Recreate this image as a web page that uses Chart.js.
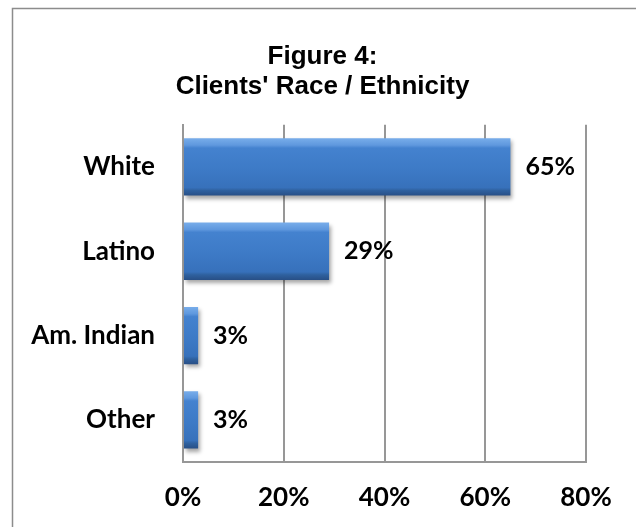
<!DOCTYPE html>
<html>
<head>
<meta charset="utf-8">
<script src="https://cdn.jsdelivr.net/npm/chart.js@4"></script>
<style>
  html, body { margin: 0; padding: 0; background: #ffffff; }
  #wrap { width: 636px; height: 527px; position: relative; }
</style>
</head>
<body>
<div id="wrap"><canvas id="c" width="636" height="527"></canvas></div>
<script>
// ---- data ----
const categories = ['White', 'Latino', 'Am. Indian', 'Other'];
const values = [65, 29, 3, 3];
const xTicks = [0, 20, 40, 60, 80];
const titleLines = ['Figure 4:', "Clients' Race / Ethnicity"];

const TICK_FONT = { family: 'Lato', size: 26, weight: 'bold' };
const GRID = '#979797';

function barGradient(ctx) {
  const chart = ctx.chart;
  const ys = chart.scales && chart.scales.y;
  const area = chart.chartArea;
  if (!ys || !area || ctx.dataIndex === undefined) return '#3f7cc8';
  const cy = ys.getPixelForValue(ctx.dataIndex);
  const h = (area.bottom - area.top) / categories.length * 0.68;
  const g = chart.ctx.createLinearGradient(0, cy - h / 2, 0, cy + h / 2);
  g.addColorStop(0, '#78adea');
  g.addColorStop(0.12, '#5f98de');
  g.addColorStop(0.17, '#4482cf');
  g.addColorStop(0.55, '#3d7ac6');
  g.addColorStop(0.86, '#3771bb');
  g.addColorStop(0.91, '#2f619f');
  g.addColorStop(1, '#284f86');
  return g;
}

const frame = {
  id: 'frame',
  beforeDraw(chart) {
    const c = chart.ctx;
    c.save();
    c.strokeStyle = '#8c8c8c';
    c.lineWidth = 1.5;
    c.strokeRect(12.5, 8.5, 800, 800);
    c.restore();
  }
};

const barFx = {
  id: 'barFx',
  beforeDatasetsDraw(chart) {
    const c = chart.ctx;
    c.save();
    c.shadowColor = 'rgba(0,0,0,0.35)';
    c.shadowBlur = 4;
    c.shadowOffsetX = 2;
    c.shadowOffsetY = 3;
  },
  afterDatasetsDraw(chart) {
    const c = chart.ctx;
    c.restore();
    const meta = chart.getDatasetMeta(0);
    c.save();
    c.fillStyle = '#000';
    c.font = 'bold 25px Lato';
    c.textBaseline = 'middle';
    c.textAlign = 'left';
    meta.data.forEach((el, i) => {
      c.fillText(values[i] + '%', el.x + 15, el.y);
    });
    c.restore();
  }
};

new Chart(document.getElementById('c'), {
  type: 'bar',
  data: {
    labels: categories,
    datasets: [{
      data: values,
      backgroundColor: barGradient,
      borderWidth: 0,
      categoryPercentage: 0.68,
      barPercentage: 1
    }]
  },
  options: {
    indexAxis: 'y',
    responsive: false,
    animation: false,
    devicePixelRatio: 1,
    layout: { padding: { left: 9, right: 0, top: 0, bottom: 0 } },
    plugins: {
      legend: { display: false },
      tooltip: { enabled: false },
      title: {
        display: true,
        text: titleLines,
        color: '#000',
        font: { family: 'Liberation Sans', size: 26, weight: 'bold', lineHeight: 1.15 },
        padding: { top: 42, bottom: 23 }
      }
    },
    scales: {
      x: {
        type: 'linear',
        min: xTicks[0],
        max: xTicks[xTicks.length - 1],
        afterBuildTicks(s) { s.ticks = xTicks.map(v => ({ value: v })); },
        ticks: {
          color: '#000',
          font: TICK_FONT,
          padding: 20,
          callback: v => v + '%'
        },
        grid: { color: GRID, lineWidth: 2, drawTicks: false },
        border: { display: true, color: GRID, width: 2 },
        afterFit(s) { s.height = 65; }
      },
      y: {
        type: 'category',
        ticks: { color: '#000', font: TICK_FONT, padding: 28 },
        grid: { display: false, drawTicks: false },
        border: { display: true, color: GRID, width: 2 },
        afterFit(s) { s.width = 174; }
      },
      yr: {
        type: 'category',
        position: 'right',
        display: true,
        ticks: { display: false },
        grid: { display: false, drawTicks: false },
        border: { display: false },
        afterFit(s) { s.width = 50; }
      }
    }
  },
  plugins: [frame, barFx]
});
</script>
</body>
</html>
